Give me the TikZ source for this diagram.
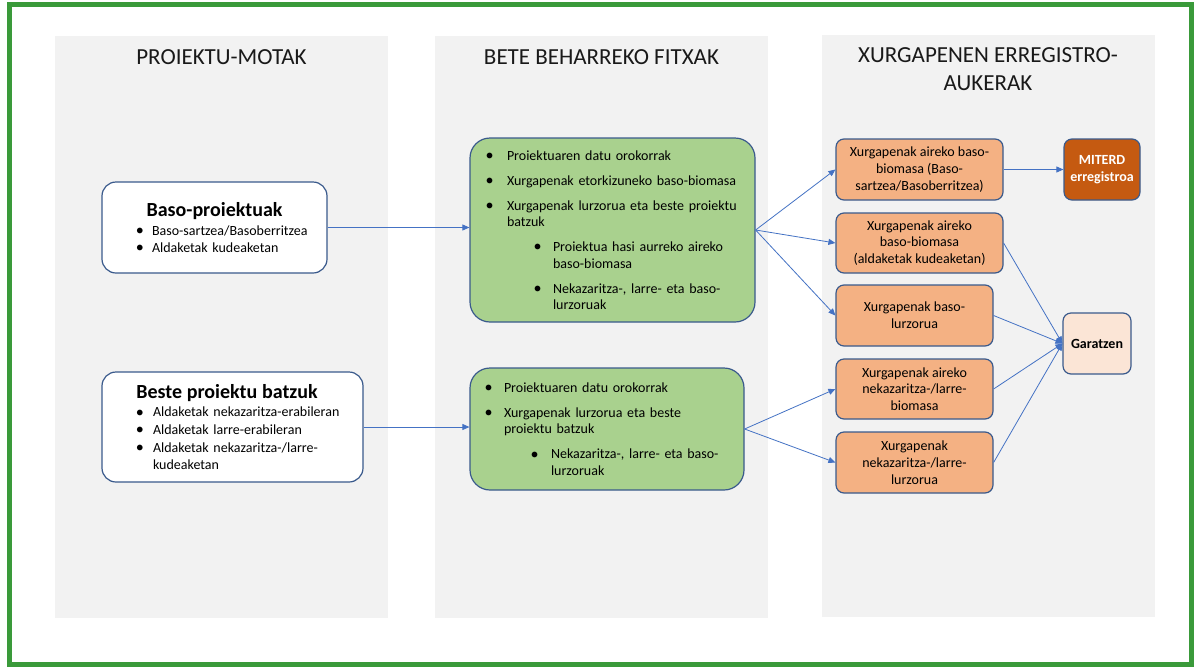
\documentclass[tikz,border=0pt]{standalone}
\usepackage{fontspec}
\setmainfont{Carlito}
\usetikzlibrary{arrows.meta}
\definecolor{frameg}{HTML}{3A9A3A}
\definecolor{colgray}{HTML}{F2F2F2}
\definecolor{boxline}{HTML}{3A5A8C}
\definecolor{greenfill}{HTML}{A9D18E}
\definecolor{orangefill}{HTML}{F4B183}
\definecolor{darkorange}{HTML}{C55A11}
\definecolor{pinkfill}{HTML}{FBE5D6}
\definecolor{arrowblue}{HTML}{4472C4}
\newcommand\bigbul{\raisebox{-0.3pt}{\scalebox{1.15}{\textbullet}}}
\newcommand\bitem[3]{\hspace*{#1pt}\makebox[#2pt][l]{\bigbul}#3}
\newcommand\bcont[2]{\hspace*{#1pt}#2}
\begin{document}
\begin{tikzpicture}[x=1pt,y=-1pt,
  colbg/.style={fill=colgray},
  coltitle/.style={font=\fontsize{23}{28}\selectfont, align=center, text=black!90, inner sep=0pt},
  projbox/.style={draw=boxline, line width=1.2pt, fill=white, rounded corners=14pt, inner sep=0pt, align=left, font=\fontsize{14}{17}\selectfont},
  listbox/.style={draw=boxline, line width=1.2pt, fill=greenfill, rounded corners=20pt, inner sep=0pt, align=left, font=\fontsize{14}{16.5}\selectfont},
  regbox/.style={draw=boxline, line width=1.2pt, fill=orangefill, rounded corners=8pt, inner sep=0pt, align=center, font=\fontsize{14}{16.7}\selectfont},
  conn/.style={draw=arrowblue, line width=0.8pt, -{Triangle[length=7pt,width=6pt]}}
]
\useasboundingbox (0,0) rectangle (1199,667);
\fill[white] (0,0) rectangle (1199,667);
% columns
\fill[colbg] (55,36) rectangle (388,618);
\fill[colbg] (435,36) rectangle (768,618);
\fill[colbg] (822,35) rectangle (1155,617);
% frame
\draw[frameg, line width=5pt] (9.5,4.5) rectangle (1191,664.5);
% titles
\node[coltitle] (t1) at (221.5,57) {PROIEKTU-MOTAK};
\node[coltitle] (t2) at (601.5,57) {BETE BEHARREKO FITXAK};
\node[coltitle] (t3) at (988,69) {XURGAPENEN ERREGISTRO-\\AUKERAK};
% project boxes
\node[projbox, minimum height=91pt, text width=225pt] (baso) at (214.5,227.5)
 {\makebox[225pt][c]{\fontsize{20}{17}\selectfont\bfseries Baso-proiektuak}\\[2pt]
  \bitem{33.8}{16.2}{Baso-sartzea/Basoberritzea}\\
  \bitem{33.8}{16.2}{Aldaketak kudeaketan}};
\node[projbox, minimum height=110pt, text width=261pt, font=\fontsize{14}{17.7}\selectfont] (beste) at (232.5,427)
 {\makebox[250pt][c]{\fontsize{20}{17}\selectfont\bfseries Beste proiektu batzuk}\\[1pt]
  \bitem{33.8}{17.2}{Aldaketak nekazaritza-erabileran}\\
  \bitem{33.8}{17.2}{Aldaketak larre-erabileran}\\
  \bitem{33.8}{17.2}{Aldaketak nekazaritza-/larre-}\\
  \bcont{51}{kudeaketan}};
% list boxes
\node[listbox, minimum height=184pt, text width=285pt] (g1) at (612.5,230)
 {\bitem{15.5}{21.5}{Proiektuaren datu orokorrak}\\[8.5pt]
  \bitem{15.5}{21.5}{Xurgapenak etorkizuneko baso-biomasa}\\[8.5pt]
  \bitem{15.5}{21.5}{Xurgapenak lurzorua eta beste proiektu}\\
  \bcont{37}{batzuk}\\[8.5pt]
  \bitem{63.5}{19.5}{Proiektua hasi aurreko aireko}\\
  \bcont{83}{baso-biomasa}\\[8.5pt]
  \bitem{63.5}{19.5}{Nekazaritza-, larre- eta baso-}\\
  \bcont{83}{lurzoruak}};
\node[listbox, minimum height=122pt, text width=274pt] (g2) at (607,429)
 {\bitem{14.5}{19.5}{Proiektuaren datu orokorrak}\\[8.5pt]
  \bitem{14.5}{19.5}{Xurgapenak lurzorua eta beste}\\
  \bcont{34}{proiektu batzuk}\\[8.5pt]
  \bitem{60.5}{20.5}{Nekazaritza-, larre- eta baso-}\\
  \bcont{81}{lurzoruak}};
% register boxes
\node[regbox, minimum width=167pt, minimum height=61pt] (o1) at (919.5,169.5)
 {Xurgapenak aireko baso-\\biomasa (Baso-\\sartzea/Basoberritzea)};
\node[regbox, minimum width=167pt, minimum height=60pt] (o2) at (919.5,243)
 {Xurgapenak aireko\\baso-biomasa\\(aldaketak kudeaketan)};
\node[regbox, minimum width=157pt, minimum height=61pt] (o3) at (914.5,315.5)
 {Xurgapenak baso-\\lurzorua};
\node[regbox, minimum width=157pt, minimum height=60pt] (o4) at (914.5,389)
 {Xurgapenak aireko\\nekazaritza-/larre-\\biomasa};
\node[regbox, minimum width=157pt, minimum height=61pt] (o5) at (914.5,462.5)
 {Xurgapenak\\nekazaritza-/larre-\\lurzorua};
\node[regbox, fill=darkorange, text=white, font=\fontsize{14}{16.7}\selectfont\bfseries, minimum width=76pt, minimum height=61pt] (mit) at (1102,169.5)
 {MITERD\\erregistroa};
\node[regbox, fill=pinkfill, font=\fontsize{14}{16.7}\selectfont\bfseries, minimum width=68pt, minimum height=61pt] (gar) at (1097,343.5)
 {Garatzen};
% connectors
\draw[conn] (baso.east) -- (baso.east -| g1.west);
\draw[conn] (beste.east) -- (beste.east -| g2.west);
\draw[conn] (g1.east) -- (o1.west);
\draw[conn] (g1.east) -- (o2.west);
\draw[conn] (g1.east) -- (o3.west);
\draw[conn] (g2.east) -- (o4.west);
\draw[conn] (g2.east) -- (o5.west);
\draw[conn] (o1.east) -- (mit.west);
\draw[conn] (o2.east) -- (gar.west);
\draw[conn] (o3.east) -- (gar.west);
\draw[conn] (o4.east) -- (gar.west);
\draw[conn] (o5.east) -- (gar.west);
\end{tikzpicture}
\end{document}
